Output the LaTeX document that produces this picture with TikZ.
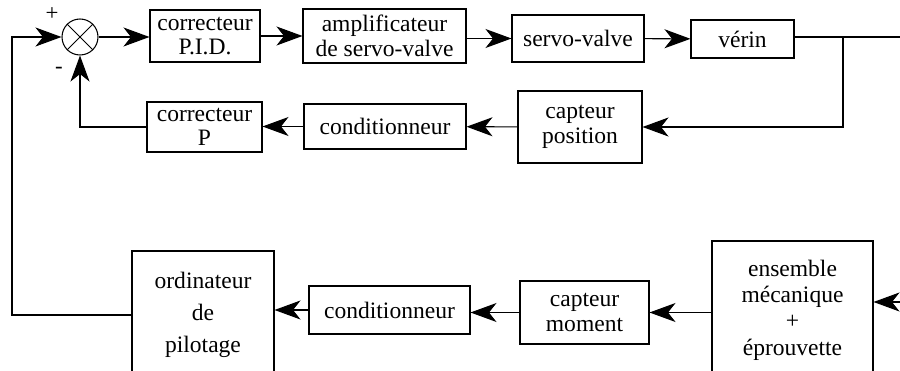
\documentclass[tikz,border=0pt]{standalone}
\usepackage{fontspec}
\setmainfont{Liberation Serif}
\usetikzlibrary{arrows.meta,positioning,calc}

\begin{document}
\begin{tikzpicture}[
        x=0.02cm, y=-0.02cm,
        box/.style={draw, line width=0.6pt, align=center, inner sep=0pt, font=\fontsize{13.4}{14}\selectfont},
        arrow/.style={-{Stealth[length=0.52cm, width=0.38cm, inset=0.15cm]}, line width=0.6pt},
        wire/.style={line width=0.6pt}
      ]
        \clip (0,0) rectangle (900,371);
        \node[draw, circle, line width=0.6pt, minimum size=0.72cm, inner sep=0pt] (sum) at (80,37) {};
        \draw[wire] (sum.north east) -- (sum.south west) (sum.north west) -- (sum.south east);
        \node[font=\fontsize{13}{13}\selectfont] (plus) at (52,14) {+};
        \node[font=\fontsize{13}{13}\selectfont] (minus) at (59,70) {-};
        \node[box, minimum width=2.2cm, minimum height=1.04cm] (pid) at (205,36) {correcteur\\P.I.D.};
        \node[box, minimum width=3.26cm, minimum height=1.08cm] (ampli) at (384.5,36) {amplificateur\\de servo-valve};
        \node[box, minimum width=2.64cm, minimum height=0.94cm] (servo) at (578,38.5) {servo-valve};
        \node[box, minimum width=2.06cm, minimum height=0.76cm] (verin) at (742.5,39) {vérin};
        \node[box, minimum width=2.48cm, minimum height=1.44cm] (cappos) at (580,127) {capteur\\position};
        \node[box, minimum width=3.24cm, minimum height=0.9cm] (condA) at (385,126.5) {conditionneur};
        \node[box, minimum width=2.3cm, minimum height=1.0cm] (corrP) at (204.5,127) {correcteur\\P};
        \node[box, minimum width=2.84cm, minimum height=2.56cm, font=\fontsize{13.4}{18.2}\selectfont] (ordi) at (203,315) {ordinateur\\de\\pilotage};
        \node[box, minimum width=3.22cm, minimum height=0.96cm] (condB) at (389.5,310) {conditionneur};
        \node[box, minimum width=2.58cm, minimum height=1.26cm] (capmom) at (584.5,312.5) {capteur\\moment};
        \node[box, minimum width=3.22cm, minimum height=2.76cm, font=\fontsize{13.4}{15}\selectfont] (ens) at (792.5,310) {ensemble\\mécanique\\+\\éprouvette};
        \coordinate (lft) at (12,37);
        \coordinate (out) at (900,37);
        \coordinate (br) at (843,37);
        \coordinate (in) at (900,302);
        \draw[arrow] (ordi.west) -| (lft) -- (sum.west);
        \draw[arrow] (sum.east) -- (pid.west |- sum.east);
        \draw[arrow] (pid) -- (ampli);
        \draw[arrow] (ampli.east |- servo) -- (servo);
        \draw[arrow] (servo) -- (verin);
        \draw[wire] (verin.east |- out) -- (out);
        \draw[arrow] (br) |- (cappos.east);
        \draw[arrow] (cappos) -- (condA);
        \draw[arrow] (condA.west) -- (corrP.east |- condA.west);
        \draw[arrow] (corrP.west) -| (sum.south);
        \draw[arrow] (in) -- (in -| ens.east);
        \draw[arrow] (ens.west |- capmom) -- (capmom);
        \draw[arrow] (capmom.west) -- (condB.east |- capmom.west);
        \draw[arrow] (condB.west) -- (ordi.east |- condB.west);
      \end{tikzpicture}
\end{document}
